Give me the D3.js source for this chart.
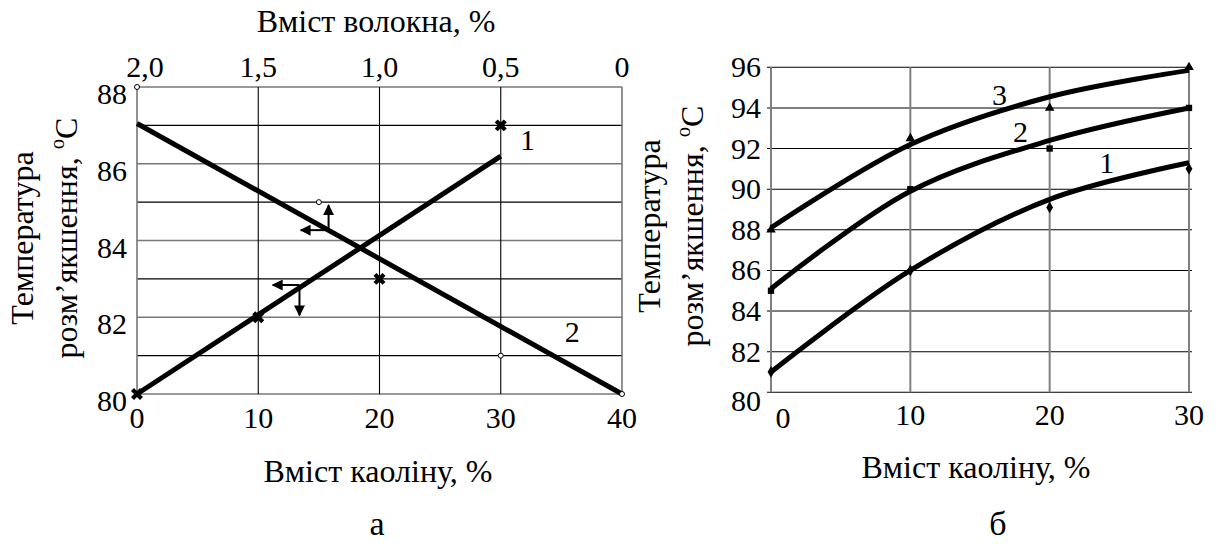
<!DOCTYPE html>
<html>
<head>
<meta charset="utf-8">
<script src="https://cdn.jsdelivr.net/npm/d3@7"></script>
<style>
  body { margin: 0; background: #fff; }
</style>
</head>
<body>
<svg id="chart" width="1219" height="546" font-family="'Liberation Serif', 'Times New Roman', serif"></svg>
<script>
// ---- panel "а": kaolin (bottom) / fibre (top) ----
const kaolinTicksA = [0, 10, 20, 30, 40];
const fibreTicks = [2, 1.5, 1, 0.5, 0];
const tempTicksA = [80, 82, 84, 86, 88];
const tempGridA = [80, 81, 82, 83, 84, 85, 86, 87, 88];

// curve 1 (vs kaolin): measured points and the fitted line
const line1Kaolin = [0, 10, 20, 30];
const line1Temp = [80, 82, 83, 87];
const fit1Kaolin = [0, 30];
const fit1Temp = [80, 86.2];

// curve 2 (vs fibre): measured points and the fitted line
const line2Fibre = [2, 1.25, 0.5, 0];
const line2Temp = [88, 85, 81, 80];
const fit2Fibre = [2, 0];
const fit2Temp = [87.05, 80];

// ---- panel "б": kaolin ----
const kaolinTicksB = [0, 10, 20, 30];
const tempTicksB = [80, 82, 84, 86, 88, 90, 92, 94, 96];
const s1Temp = [81, 86, 89.1, 91];
const s1Fit = [81, 86, 89.5, 91.3];
const s2Temp = [85, 90, 92, 94];
const s2Fit = [85.1, 89.9, 92.4, 94];
const s3Temp = [88, 92.5, 94, 96];
const s3Fit = [88.1, 92.2, 94.55, 95.85];

const svg = d3.select("#chart");
const FS = 30;      // tick labels
const FT = 32;      // axis titles
const fmtComma = d => d === 0 ? "0" : d3.format(".1f")(d).replace(".", ",");

// arrowhead
svg.append("defs").append("marker")
  .attr("id", "arr").attr("viewBox", "0 0 10 10").attr("refX", 9).attr("refY", 5)
  .attr("markerWidth", 5.5).attr("markerHeight", 5.5).attr("markerUnits", "strokeWidth")
  .attr("orient", "auto")
  .append("path").attr("d", "M0,0L10,5L0,10z").attr("fill", "#000");

// ===================== panel a =====================
const xA = d3.scaleLinear().domain([0, 40]).range([137, 622]);
const xTop = d3.scaleLinear().domain([2, 0]).range([137, 622]);
const yA = d3.scaleLinear().domain([80, 88]).range([394, 87]);

const gA = svg.append("g");

gA.selectAll("line.hg").data(tempGridA).join("line")
  .attr("x1", xA(0)).attr("x2", xA(40))
  .attr("y1", d => yA(d)).attr("y2", d => yA(d))
  .attr("stroke", d => d % 2 === 0 ? "#777" : "#000")
  .attr("stroke-width", d => d % 2 === 0 ? 1.6 : 1.1);

gA.selectAll("line.vg").data(kaolinTicksA).join("line")
  .attr("x1", d => xA(d)).attr("x2", d => xA(d))
  .attr("y1", yA(80)).attr("y2", yA(88))
  .attr("stroke", d => (d === 0 || d === 40) ? "#777" : "#000")
  .attr("stroke-width", d => (d === 0 || d === 40) ? 1.6 : 1.1);

// tick labels
gA.selectAll("text.yt").data(tempTicksA).join("text")
  .attr("x", 127).attr("y", d => yA(d) + 17)
  .attr("text-anchor", "end").attr("font-size", FS).text(d => d);
gA.selectAll("text.xb").data(kaolinTicksA).join("text")
  .attr("x", d => xA(d)).attr("y", 428)
  .attr("text-anchor", "middle").attr("font-size", FS).text(d => d);
gA.selectAll("text.xt").data(fibreTicks).join("text")
  .attr("x", d => xTop(d) + (d === 2 ? 8 : 0)).attr("y", 77)
  .attr("text-anchor", "middle").attr("font-size", FS).text(fmtComma);

gA.append("text").attr("x", 376).attr("y", 32).attr("text-anchor", "middle")
  .attr("font-size", FT).text("Вміст волокна, %");
gA.append("text").attr("x", 378).attr("y", 482).attr("text-anchor", "middle")
  .attr("font-size", FT).text("Вміст каоліну, %");
gA.append("text").attr("x", 377).attr("y", 535).attr("text-anchor", "middle")
  .attr("font-size", 34).text("а");

function yLabel(g, x1, x2, cy) {
  g.append("text").attr("transform", `translate(${x1},${cy}) rotate(-90)`)
    .attr("text-anchor", "middle").attr("font-size", FT).text("Температура");
  const t = g.append("text").attr("transform", `translate(${x2},${cy}) rotate(-90)`)
    .attr("text-anchor", "middle").attr("font-size", FT);
  t.append("tspan").text("розм’якшення, ");
  t.append("tspan").attr("font-size", FT * 0.65).attr("dy", -13).text("о");
  t.append("tspan").attr("dy", 13).text("С");
}
yLabel(gA, 33, 77, 238);

// fitted lines
const lineA1 = d3.line().x(d => xA(d[0])).y(d => yA(d[1]));
const lineA2 = d3.line().x(d => xTop(d[0])).y(d => yA(d[1]));
gA.append("path").datum(d3.zip(fit1Kaolin, fit1Temp)).attr("d", lineA1)
  .attr("fill", "none").attr("stroke", "#000").attr("stroke-width", 5);
gA.append("path").datum(d3.zip(fit2Fibre, fit2Temp)).attr("d", lineA2)
  .attr("fill", "none").attr("stroke", "#000").attr("stroke-width", 5);

// markers
gA.selectAll("path.cross").data(d3.zip(line1Kaolin, line1Temp)).join("path")
  .attr("transform", d => `translate(${xA(d[0])},${yA(d[1])}) rotate(45)`)
  .attr("d", d3.symbol(d3.symbolCross, 90))
  .attr("fill", "#000");
gA.selectAll("circle.pt").data(d3.zip(line2Fibre, line2Temp)).join("circle")
  .attr("cx", d => xTop(d[0])).attr("cy", d => yA(d[1])).attr("r", 2.5)
  .attr("fill", "#fff").attr("stroke", "#000").attr("stroke-width", 1);

// curve numbers
gA.append("text").attr("x", xA(32.2)).attr("y", yA(86.36)).attr("text-anchor", "middle")
  .attr("font-size", FS).text("1");
gA.append("text").attr("x", xA(35.9)).attr("y", yA(81.35)).attr("text-anchor", "middle")
  .attr("font-size", FS).text("2");

// axis pointers (curve 2 -> top/left, curve 1 -> bottom/left)
function pointer(g, cx, cy, hx, vy) {
  g.append("line").attr("x1", xA(cx)).attr("y1", yA(cy)).attr("x2", xA(hx)).attr("y2", yA(cy))
    .attr("stroke", "#000").attr("stroke-width", 2).attr("marker-end", "url(#arr)");
  g.append("line").attr("x1", xA(cx)).attr("y1", yA(cy)).attr("x2", xA(cx)).attr("y2", yA(vy))
    .attr("stroke", "#000").attr("stroke-width", 2).attr("marker-end", "url(#arr)");
}
pointer(gA, 15.8, 84.27, 13.5, 84.92);
pointer(gA, 13.4, 82.84, 11.2, 82.05);

// ===================== panel b =====================
const xB = d3.scaleLinear().domain([0, 30]).range([771, 1189]);
const yB = d3.scaleLinear().domain([80, 96]).range([392.3, 67.3]);
const gB = svg.append("g");

gB.selectAll("line.hg").data(tempTicksB).join("line")
  .attr("x1", xB(0) - 4).attr("x2", xB(30) + 3)
  .attr("y1", d => yB(d)).attr("y2", d => yB(d))
  .attr("stroke", "#000").attr("stroke-width", 1.1);
gB.selectAll("line.vg").data(kaolinTicksB).join("line")
  .attr("x1", d => xB(d)).attr("x2", d => xB(d))
  .attr("y1", yB(80)).attr("y2", yB(96))
  .attr("stroke", "#808080").attr("stroke-width", 2);

gB.selectAll("text.yt").data(tempTicksB).join("text")
  .attr("x", 761).attr("y", d => yB(d) + (d === 80 ? 19 : 10))
  .attr("text-anchor", "end").attr("font-size", FS).text(d => d);
gB.selectAll("text.xb").data(kaolinTicksB).join("text")
  .attr("x", d => xB(d) + (d === 0 ? 12 : 0)).attr("y", d => d === 0 ? 428 : 425)
  .attr("text-anchor", "middle").attr("font-size", FS).text(d => d);

gB.append("text").attr("x", 976).attr("y", 478).attr("text-anchor", "middle")
  .attr("font-size", FT).text("Вміст каоліну, %");
gB.append("text").attr("x", 998).attr("y", 535).attr("text-anchor", "middle")
  .attr("font-size", 34).text("б");
yLabel(gB, 660, 703, 226);

const curveB = d3.line().x(d => xB(d[0])).y(d => yB(d[1])).curve(d3.curveCatmullRom.alpha(0.5));
[s1Fit, s2Fit, s3Fit].forEach(fit => {
  gB.append("path").datum(d3.zip(kaolinTicksB, fit)).attr("d", curveB)
    .attr("fill", "none").attr("stroke", "#000").attr("stroke-width", 5);
});

const symB = [d3.symbolDiamond, d3.symbolSquare, d3.symbolTriangle];
[s1Temp, s2Temp, s3Temp].forEach((vals, i) => {
  gB.selectAll(null).data(d3.zip(kaolinTicksB, vals)).join("path")
    .attr("transform", d => `translate(${xB(d[0])},${yB(d[1])})`)
    .attr("d", d3.symbol(symB[i], 40)).attr("fill", "#000");
});

gB.append("text").attr("x", xB(16.4)).attr("y", yB(94.14)).attr("text-anchor", "middle")
  .attr("font-size", FS).text("3");
gB.append("text").attr("x", xB(17.9)).attr("y", yB(92.32)).attr("text-anchor", "middle")
  .attr("font-size", FS).text("2");
gB.append("text").attr("x", xB(24.1)).attr("y", yB(90.8)).attr("text-anchor", "middle")
  .attr("font-size", FS).text("1");
</script>
</body>
</html>
